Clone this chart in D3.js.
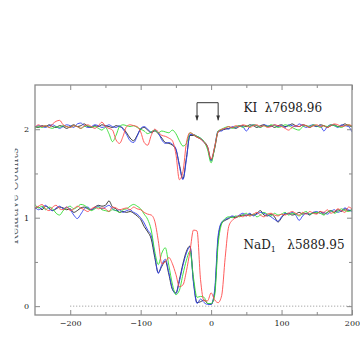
<!DOCTYPE html>
<html>
<head>
<meta charset="utf-8">
<script src="https://cdn.jsdelivr.net/npm/d3@7"></script>
<style>
	body { margin: 0; background: #fff; }
	svg { display: block; }
	text { font-family: "DejaVu Serif", serif; }
</style>
</head>
<body>
<svg id="chart" width="360" height="359"></svg>
<script>
// velocity grid (km/s)
const vel = [
	-250, -245, -240, -235, -230, -225, -220, -215, -210, -205,
	-200, -195, -190, -185, -180, -175, -170, -165, -160, -155,
	-150, -145, -140, -135, -130, -125, -120, -115, -110, -105,
	-100, -95, -90, -85, -80, -75, -70, -65, -60, -55,
	-50, -45, -40, -35, -30, -25, -20, -15, -10, -5,
	0, 5, 10, 15, 20, 25, 30, 35, 40, 45,
	50, 55, 60, 65, 70, 75, 80, 85, 90, 95,
	100, 105, 110, 115, 120, 125, 130, 135, 140, 145,
	150, 155, 160, 165, 170, 175, 180, 185, 190, 195,
	200
];

// KI 7698.96 spectra (offset by +1)
const kiBlack = [
	2.03, 2.02, 2.04, 2.03, 2.05, 2.03, 2.02, 2.04, 2.03, 2.01,
	2.03, 2.05, 2.03, 2.04, 2.06, 2.03, 2.02, 2.04, 2.03, 2.05,
	2.04, 2.03, 2.02, 2.04, 2.03, 2.01, 1.96, 1.90, 1.87, 1.93,
	2.00, 2.02, 1.99, 1.96, 1.98, 1.95, 1.90, 1.85, 1.84, 1.82,
	1.77, 1.60, 1.44, 1.68, 1.93, 1.93, 1.91, 1.89, 1.86, 1.80,
	1.65, 1.78, 1.97, 1.99, 2.00, 2.01, 2.02, 2.01, 2.03, 2.04,
	2.03, 2.05, 2.04, 2.02, 2.04, 2.05, 2.03, 2.04, 2.02, 2.04,
	2.05, 2.03, 2.04, 2.06, 2.04, 2.03, 2.05, 2.04, 2.02, 2.04,
	2.03, 2.05, 2.04, 2.02, 2.04, 2.05, 2.03, 2.04, 2.06, 2.04,
	2.03
];
const kiBlue = [
	2.02, 2.04, 2.03, 2.02, 2.04, 2.05, 2.03, 2.01, 2.03, 2.05,
	2.04, 2.02, 2.06, 2.07, 2.04, 2.02, 2.03, 2.05, 2.04, 2.02,
	2.03, 2.05, 2.03, 2.02, 2.04, 2.00, 1.94, 1.87, 1.85, 1.92,
	2.01, 2.03, 2.00, 1.97, 1.99, 1.96, 1.88, 1.84, 1.85, 1.83,
	1.78, 1.58, 1.43, 1.66, 1.94, 1.94, 1.92, 1.90, 1.85, 1.79,
	1.64, 1.80, 1.98, 1.98, 2.01, 2.00, 2.03, 2.02, 2.04, 2.03,
	1.98, 2.03, 2.05, 2.04, 2.02, 2.05, 2.04, 2.03, 2.05, 2.03,
	2.04, 2.02, 2.05, 2.04, 2.03, 2.06, 2.04, 2.02, 2.04, 2.05,
	2.03, 2.04, 1.98, 2.03, 2.05, 2.04, 2.02, 2.05, 2.04, 2.03,
	1.97
];
const kiGreen = [
	2.01, 2.03, 2.02, 2.04, 2.02, 2.01, 2.03, 2.02, 2.04, 2.03,
	2.02, 2.04, 2.03, 2.01, 2.03, 2.04, 2.02, 2.03, 2.01, 1.99,
	2.02, 1.95, 1.86, 1.93, 2.03, 2.05, 2.04, 2.03, 2.04, 2.02,
	2.00, 1.98, 1.95, 1.97, 1.99, 1.96, 1.98, 1.97, 1.96, 1.99,
	1.95, 1.87, 1.81, 1.84, 1.96, 1.94, 1.92, 1.90, 1.86, 1.77,
	1.62, 1.79, 1.98, 2.00, 2.02, 2.03, 2.01, 2.03, 2.04, 2.02,
	2.04, 2.03, 2.05, 2.04, 2.02, 2.04, 2.03, 2.05, 2.04, 2.02,
	2.03, 2.05, 2.04, 2.02, 2.00, 1.99, 2.03, 2.04, 2.03, 2.05,
	2.04, 2.02, 2.04, 2.03, 2.05, 2.04, 2.03, 2.02, 2.04, 2.05,
	2.03
];
const kiRed = [
	2.02, 2.05, 2.03, 2.04, 2.02, 2.06, 2.09, 2.10, 2.05, 2.03,
	2.02, 2.04, 2.03, 2.01, 2.04, 2.05, 2.03, 2.01, 2.04, 2.08,
	2.03, 2.01, 1.99, 1.88, 1.84, 1.92, 2.03, 2.05, 2.04, 2.03,
	1.97, 1.85, 1.82, 1.93, 2.00, 1.97, 1.93, 1.92, 1.90, 1.87,
	1.72, 1.43, 1.52, 1.85, 1.96, 1.94, 1.91, 1.89, 1.85, 1.80,
	1.66, 1.80, 1.97, 2.00, 2.01, 2.03, 2.02, 2.04, 2.03, 2.05,
	2.04, 2.02, 2.04, 2.05, 2.03, 2.04, 2.02, 2.03, 2.05, 2.04,
	2.03, 2.01, 1.99, 2.02, 2.04, 2.03, 2.05, 2.04, 2.02, 2.04,
	2.05, 2.03, 2.04, 2.02, 2.04, 2.06, 2.05, 2.03, 2.04, 2.05,
	2.04
];

// NaD1 5889.95 spectra
const naBlack = [
	1.10, 1.12, 1.09, 1.13, 1.11, 1.08, 1.10, 1.12, 1.11, 1.09,
	1.10, 1.06, 1.08, 1.11, 1.12, 1.10, 1.09, 1.12, 1.14, 1.13,
	1.14, 1.19, 1.12, 1.10, 1.06, 1.07, 1.06, 1.07, 1.05, 1.02,
	0.98, 0.90, 0.84, 0.76, 0.55, 0.38, 0.45, 0.51, 0.36, 0.19,
	0.15, 0.30, 0.48, 0.62, 0.68, 0.28, 0.04, 0.05, 0.07, 0.03,
	0.02, 0.15, 0.76, 0.94, 0.97, 0.99, 1.01, 1.00, 1.02, 1.03,
	1.02, 1.04, 1.03, 1.05, 1.08, 1.03, 1.02, 1.04, 1.01, 0.95,
	1.00, 1.04, 1.05, 1.03, 1.04, 1.06, 1.04, 1.05, 1.03, 1.06,
	1.05, 1.07, 1.04, 1.06, 1.08, 1.06, 1.09, 1.07, 1.10, 1.08,
	1.09
];
const naBlue = [
	1.12, 1.09, 1.11, 1.14, 1.10, 1.08, 1.11, 1.13, 1.10, 1.12,
	1.09, 1.03, 0.99, 1.04, 1.10, 1.12, 1.09, 1.11, 1.13, 1.10,
	1.12, 1.14, 1.10, 1.08, 1.09, 1.06, 1.08, 1.09, 1.06, 1.04,
	1.00, 0.94, 0.86, 0.80, 0.58, 0.37, 0.47, 0.53, 0.38, 0.20,
	0.14, 0.28, 0.46, 0.60, 0.67, 0.26, 0.03, 0.08, 0.04, 0.02,
	0.02, 0.18, 0.80, 0.95, 0.98, 1.00, 1.02, 1.01, 1.03, 1.05,
	1.03, 1.05, 1.02, 1.04, 1.06, 1.05, 1.03, 1.01, 0.98, 0.96,
	1.01, 1.05, 1.04, 1.06, 1.03, 0.97, 1.02, 1.05, 1.04, 1.06,
	1.07, 1.05, 1.06, 1.04, 1.07, 1.09, 1.06, 1.08, 1.11, 1.09,
	1.07
];
const naGreen = [
	1.15, 1.11, 1.13, 1.09, 1.12, 1.10, 1.05, 1.03, 1.08, 1.11,
	1.13, 1.10, 1.12, 1.15, 1.14, 1.11, 1.08, 1.10, 1.12, 1.09,
	1.08, 1.07, 1.09, 1.08, 1.06, 1.09, 1.10, 1.13, 1.15, 1.13,
	1.10, 1.04, 0.98, 0.86, 0.62, 0.47, 0.60, 0.66, 0.46, 0.25,
	0.13, 0.18, 0.36, 0.52, 0.62, 0.32, 0.10, 0.11, 0.10, 0.03,
	0.03, 0.12, 0.70, 0.93, 0.99, 1.01, 1.00, 1.02, 1.01, 1.03,
	1.05, 1.02, 1.04, 1.01, 1.03, 1.06, 1.04, 1.02, 1.05, 1.03,
	1.04, 1.06, 1.03, 1.05, 1.04, 1.02, 1.05, 1.07, 1.04, 1.05,
	1.06, 1.05, 1.03, 1.06, 1.08, 1.05, 1.07, 1.10, 1.08, 1.07,
	1.09
];
const naRed = [
	1.11, 1.13, 1.15, 1.10, 1.08, 1.12, 1.14, 1.10, 1.09, 1.12,
	1.08, 1.10, 1.13, 1.11, 1.09, 1.07, 1.10, 1.12, 1.10, 1.11,
	1.10, 1.07, 1.12, 1.11, 1.09, 1.10, 1.11, 1.09, 1.12, 1.10,
	1.09, 1.06, 1.04, 1.03, 0.96, 0.74, 0.48, 0.50, 0.55, 0.48,
	0.36, 0.22, 0.24, 0.40, 0.62, 0.86, 0.85, 0.30, 0.06, 0.06,
	0.15, 0.07, 0.04, 0.12, 0.55, 0.90, 0.97, 1.00, 1.02, 1.01,
	1.03, 1.02, 1.04, 1.06, 1.03, 1.01, 1.04, 1.05, 1.03, 1.02,
	1.04, 1.03, 1.05, 1.07, 1.05, 1.03, 1.06, 1.04, 1.07, 1.05,
	1.04, 1.07, 1.06, 1.09, 1.05, 1.07, 1.10, 1.08, 1.06, 1.12,
	1.10
];

const xMajor = [-200, -100, 0, 100, 200];
const xMinor = [-150, -50, 50, 150];
const yMajor = [0, 1, 2];
const yMinor = [0.5, 1.5];

const seriesColors = { black: "#222222", blue: "#3040f0", green: "#30dd30", red: "#ff4a4a" };
const spectra = [
	{ color: "black", values: kiBlack }, { color: "blue", values: kiBlue },
	{ color: "green", values: kiGreen }, { color: "red", values: kiRed },
	{ color: "black", values: naBlack }, { color: "blue", values: naBlue },
	{ color: "green", values: naGreen }, { color: "red", values: naRed }
];

const svg = d3.select("#chart");
const width = +svg.attr("width");
const height = +svg.attr("height");
const margin = { top: 85, right: 8, bottom: 44, left: 35 };
const frameColor = "#8a8a8a";

const x = d3.scaleLinear().domain([-250, 200]).range([margin.left, width - margin.right]);
const y = d3.scaleLinear().domain([-0.1, 2.5]).range([height - margin.bottom, margin.top]);

const defs = svg.append("defs");
defs.append("clipPath").attr("id", "plotClip")
	.append("rect")
	.attr("x", x(-250)).attr("y", y(2.5))
	.attr("width", x(200) - x(-250)).attr("height", y(-0.1) - y(2.5));

// zero level
svg.append("line")
	.attr("x1", x(-200)).attr("x2", x(200))
	.attr("y1", y(0)).attr("y2", y(0))
	.attr("stroke", "#777").attr("stroke-width", 0.8)
	.attr("stroke-dasharray", "1,2");

// spectra
const line = d3.line()
	.x((d, i) => x(vel[i]))
	.y(d => y(d))
	.curve(d3.curveMonotoneX);

svg.append("g").attr("clip-path", "url(#plotClip)")
	.selectAll("path")
	.data(spectra)
	.enter()
	.append("path")
	.attr("d", d => line(d.values))
	.attr("fill", "none")
	.attr("stroke", d => seriesColors[d.color])
	.attr("stroke-width", 0.9)
	.attr("stroke-linejoin", "round");

// axes, ticks inward on all four sides
function styleAxis(g) {
	g.select(".domain").remove();
	g.selectAll(".tick line").attr("stroke", frameColor);
	g.selectAll(".tick text")
		.attr("fill", "#222")
		.style("font-family", "'DejaVu Serif', serif")
		.style("font-size", "8px");
}
const bottomY = y(-0.1);
const topY = y(2.5);
const leftX = x(-250);
const rightX = x(200);

svg.append("g").attr("transform", `translate(0,${bottomY})`)
	.call(d3.axisBottom(x).tickValues(xMajor).tickSize(-5).tickPadding(5)
		.tickFormat(d => d < 0 ? "\u2212" + Math.abs(d) : d))
	.call(styleAxis);
svg.append("g").attr("transform", `translate(0,${bottomY})`)
	.call(d3.axisBottom(x).tickValues(xMinor).tickSize(-3).tickFormat(""))
	.call(styleAxis);
svg.append("g").attr("transform", `translate(0,${topY})`)
	.call(d3.axisTop(x).tickValues(xMajor).tickSize(-5).tickFormat(""))
	.call(styleAxis);
svg.append("g").attr("transform", `translate(0,${topY})`)
	.call(d3.axisTop(x).tickValues(xMinor).tickSize(-3).tickFormat(""))
	.call(styleAxis);
svg.append("g").attr("transform", `translate(${leftX},0)`)
	.call(d3.axisLeft(y).tickValues(yMajor).tickSize(-5).tickPadding(6).tickFormat(d3.format("d")))
	.call(styleAxis);
svg.append("g").attr("transform", `translate(${leftX},0)`)
	.call(d3.axisLeft(y).tickValues(yMinor).tickSize(-3).tickFormat(""))
	.call(styleAxis);
svg.append("g").attr("transform", `translate(${rightX},0)`)
	.call(d3.axisRight(y).tickValues(yMajor).tickSize(-5).tickFormat(""))
	.call(styleAxis);
svg.append("g").attr("transform", `translate(${rightX},0)`)
	.call(d3.axisRight(y).tickValues(yMinor).tickSize(-3).tickFormat(""))
	.call(styleAxis);

// frame
svg.append("rect")
	.attr("x", leftX).attr("y", topY)
	.attr("width", rightX - leftX).attr("height", bottomY - topY)
	.attr("fill", "none").attr("stroke", frameColor).attr("stroke-width", 1.3);

// y label, mostly cut off at the page edge
defs.append("clipPath").attr("id", "labelClip")
	.append("rect").attr("x", 14.8).attr("y", 0).attr("width", 6).attr("height", height);
svg.append("g")
	.attr("clip-path", "url(#labelClip)")
	.append("text")
	.attr("transform", "translate(17.5,196) rotate(-90)")
	.attr("text-anchor", "middle")
	.attr("fill", "#666")
	.style("font-size", "12px")
	.text("Relative Counts");

// component markers
const bracketX = [-20, 10];
const bracketTop = 2.30;
const bracketTip = 2.10;
const marker = defs.append("marker")
	.attr("id", "arrowHead")
	.attr("viewBox", "0 0 8 8")
	.attr("refX", 8).attr("refY", 4)
	.attr("markerWidth", 5).attr("markerHeight", 5)
	.attr("markerUnits", "userSpaceOnUse")
	.attr("orient", "auto");
marker.append("path").attr("d", "M0,1 L8,4 L0,7 Z").attr("fill", "#333");

svg.append("line")
	.attr("x1", x(bracketX[0])).attr("x2", x(bracketX[1]))
	.attr("y1", y(bracketTop)).attr("y2", y(bracketTop))
	.attr("stroke", "#333").attr("stroke-width", 1);
svg.selectAll("line.arrow")
	.data(bracketX)
	.enter()
	.append("line")
	.attr("class", "arrow")
	.attr("x1", d => x(d)).attr("x2", d => x(d))
	.attr("y1", y(bracketTop)).attr("y2", y(bracketTip))
	.attr("stroke", "#333").attr("stroke-width", 1)
	.attr("marker-end", "url(#arrowHead)");

// line identifications
svg.append("text")
	.attr("x", x(46)).attr("y", y(2.195))
	.attr("fill", "#222")
	.style("font-size", "12px")
	.style("white-space", "pre")
	.text("KI  \u03bb7698.96");

const naLabel = svg.append("text")
	.attr("x", x(46)).attr("y", y(0.65))
	.attr("fill", "#222")
	.style("font-size", "12px")
	.style("white-space", "pre");
naLabel.append("tspan").text("NaD");
naLabel.append("tspan").attr("dy", 3).style("font-size", "8px").text("1");
naLabel.append("tspan").attr("dy", -3).text("   \u03bb5889.95");
</script>
</body>
</html>
